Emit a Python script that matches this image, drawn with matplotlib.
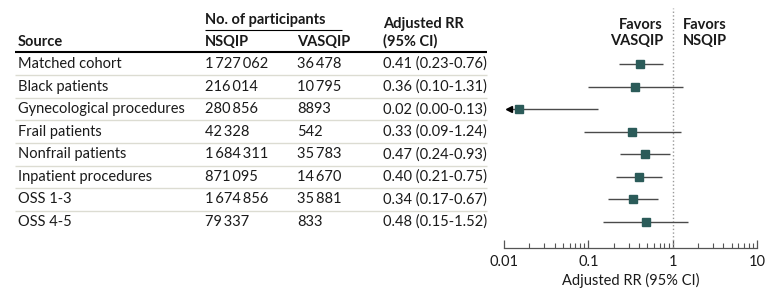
import numpy as np
import matplotlib.pyplot as plt
from matplotlib.ticker import FixedLocator, LogLocator, NullFormatter

plt.rcParams['font.family'] = ['Lato', 'DejaVu Sans']

sources = ['Matched cohort', 'Black patients', 'Gynecological procedures',
           'Frail patients', 'Nonfrail patients', 'Inpatient procedures',
           'OSS 1-3', 'OSS 4-5']
n_nsqip = [1727062, 216014, 280856, 42328, 1684311, 871095, 1674856, 79337]
n_vasqip = [36478, 10795, 8893, 542, 35783, 14670, 35881, 833]
rr = [0.41, 0.36, 0.015, 0.33, 0.47, 0.40, 0.34, 0.48]
lo = [0.23, 0.10, 0.00, 0.09, 0.24, 0.21, 0.17, 0.15]
hi = [0.76, 1.31, 0.13, 1.24, 0.93, 0.75, 0.67, 1.52]
rr_labels = ['0.41 (0.23-0.76)', '0.36 (0.10-1.31)', '0.02 (0.00-0.13)',
             '0.33 (0.09-1.24)', '0.47 (0.24-0.93)', '0.40 (0.21-0.75)',
             '0.34 (0.17-0.67)', '0.48 (0.15-1.52)']
xticks = [0.01, 0.1, 1, 10]
xticklabels = ['0.01', '0.1', '1', '10']


def fmt(n):
    # thin space groups for 5+ digit numbers
    if n < 10000:
        return str(n)
    return '{:,}'.format(n).replace(',', '\u2009')


W, H = 780, 297
fs = 10.5
txt = '#1a1a1a'
ylim = (8.15, -2.48)

fig = plt.figure(figsize=(W / 100, H / 100), dpi=100)
tab = fig.add_axes([0, 1 - 248 / H, 1, 240 / H])
tab.set_xlim(0, W)
tab.set_ylim(*ylim)
tab.axis('off')

ax = fig.add_axes([504 / W, 1 - 248 / H, 253 / W, 240 / H])

# table
rows = np.arange(len(sources))
for i in rows:
    tab.text(18, i, sources[i], va='center', ha='left', fontsize=fs, color=txt)
    tab.text(205, i, fmt(n_nsqip[i]), va='center', ha='left', fontsize=fs, color=txt)
    tab.text(297, i, fmt(n_vasqip[i]), va='center', ha='left', fontsize=fs, color=txt)
    tab.text(383, i, rr_labels[i], va='center', ha='left', fontsize=fs, color=txt)

tab.hlines(rows[:-1] + 0.5, 15, 487, color='#dcdcd2', lw=1)
tab.hlines(-0.53, 15, 487, color='black', lw=1.5)
tab.hlines(-1.51, 205, 342, color='black', lw=0.8)
tab.text(205, -1.95, 'No. of participants', va='center', ha='left', fontsize=fs,
         fontweight='bold', color=txt)
for x, s in [(18, 'Source'), (205, 'NSQIP'), (297, 'VASQIP')]:
    tab.text(x, -0.975, s, va='center', ha='left', fontsize=fs, fontweight='bold', color=txt)
tab.text(383, -1.37, 'Adjusted RR\n(95% CI)', va='center', ha='left', fontsize=fs,
         fontweight='bold', color=txt, linespacing=1.25)

# forest
xmin, xmax = xticks[0], xticks[-1]
ax.set_xscale('log')
ax.set_xlim(xmin, xmax)
ax.set_ylim(*ylim)
ax.axvline(1, color='#9a9a9a', ls=':', lw=1)
for i in rows:
    left = max(lo[i], xmin * 1.15)
    ax.plot([left, hi[i]], [i, i], color='#4a4a4a', lw=1, solid_capstyle='butt')
    if lo[i] < xmin:
        ax.plot(xmin * 1.15, i, marker='<', color='black', ms=5, clip_on=False)
ax.plot(rr, rows, 's', color='#2b5b59', ms=5.2, zorder=3)

ax.annotate('Favors\nVASQIP', xy=(1, -1.37), xytext=(-7, 0), textcoords='offset points',
            ha='right', va='center', fontsize=fs, fontweight='bold', color=txt, linespacing=1.25)
ax.annotate('Favors\nNSQIP', xy=(1, -1.37), xytext=(7, 0), textcoords='offset points',
            ha='left', va='center', fontsize=fs, fontweight='bold', color=txt, linespacing=1.25)

for sp in ['left', 'top', 'right']:
    ax.spines[sp].set_visible(False)
ax.spines['bottom'].set_color('#555555')
ax.spines['bottom'].set_linewidth(0.9)
ax.xaxis.set_major_locator(FixedLocator(xticks))
ax.set_xticklabels(xticklabels)
ax.xaxis.set_minor_locator(LogLocator(base=10, subs=np.arange(2, 10)))
ax.xaxis.set_minor_formatter(NullFormatter())
ax.tick_params(axis='x', which='major', direction='in', length=6, width=0.9,
               color='#555555', labelsize=fs, labelcolor=txt, pad=5)
ax.tick_params(axis='x', which='minor', direction='in', length=3.5, width=0.8,
               color='#555555')
ax.tick_params(axis='y', left=False, labelleft=False)
ax.set_xlabel('Adjusted RR (95% CI)', fontsize=fs, color=txt, labelpad=3)

fig.savefig('out.png', dpi=100)
